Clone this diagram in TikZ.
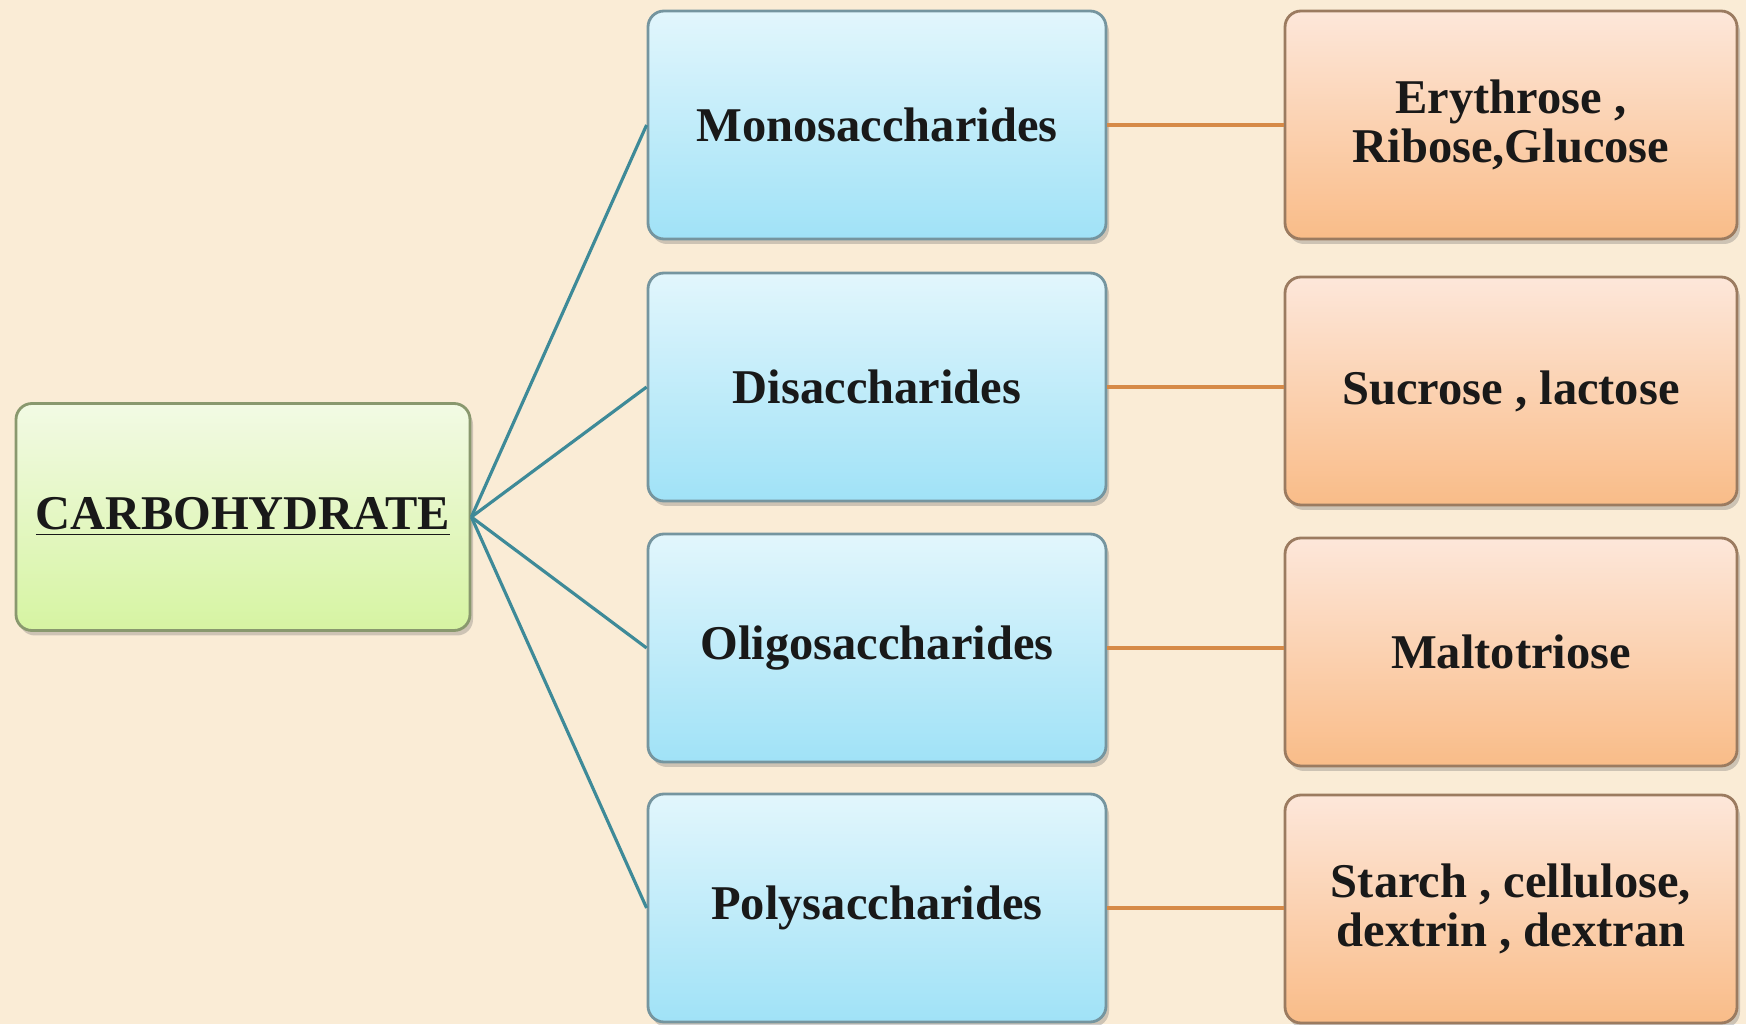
\documentclass[tikz,border=0pt]{standalone}
\usepackage{fontspec}
\setmainfont{Liberation Serif}
\usetikzlibrary{shadows}
\definecolor{paper}{RGB}{250, 236, 214}
\definecolor{greentop}{RGB}{242, 250, 228}
\definecolor{greenbot}{RGB}{214, 244, 162}
\definecolor{bluetop}{RGB}{226, 246, 252}
\definecolor{bluebot}{RGB}{160, 226, 247}
\definecolor{orangetop}{RGB}{253, 231, 218}
\definecolor{orangebot}{RGB}{249, 188, 136}
\definecolor{fanteal}{RGB}{62, 138, 152}
\definecolor{linkorange}{RGB}{214, 138, 72}

\begin{document}
\begin{tikzpicture}[
    font=\fontsize{13.8}{14}\selectfont\bfseries,
    box/.style={rounded corners=0.16cm, align=center, line width=0.8pt,
        text=black!90, inner sep=0pt,
        drop shadow={shadow xshift=0.03cm, shadow yshift=-0.05cm, opacity=0.3, fill=black!60}},
    rootbox/.style={box, draw=black!35!greenbot!80!gray, top color=greentop, bottom color=greenbot,
        minimum width=4.54cm, minimum height=2.27cm},
    typebox/.style={box, draw=black!30!bluebot!70!gray, top color=bluetop, bottom color=bluebot,
        minimum width=4.58cm, minimum height=2.28cm},
    examplebox/.style={box, draw=black!35!orangebot!80!gray, top color=orangetop, bottom color=orangebot,
        minimum width=4.52cm, minimum height=2.28cm},
    fan/.style={fanteal, line width=0.9pt},
    link/.style={linkorange, line width=1.2pt}
  ]
    % Dimensions
    \def\xb{8.77}   % centre of the type boxes
    \def\xe{15.11}  % centre of the example boxes

    % 1. Paper background (also fixes the size)
    \fill[paper] (0,0) rectangle (17.46,-10.24);

    % 2. Root
    \node[rootbox] (carb) at (2.43,-5.17) {\underline{CARBOHYDRATE}};

    % 3. Kinds of carbohydrate
    \node[typebox] (mono)  at (\xb,-1.25) {Monosaccharides};
    \node[typebox] (di)    at (\xb,-3.87) {Disaccharides};
    \node[typebox] (oligo) at (\xb,-6.48) {Oligosaccharides};
    \node[typebox] (poly)  at (\xb,-9.08) {Polysaccharides};

    % 4. Examples
    \node[examplebox] (ex-mono)  at (\xe,-1.25) {Erythrose ,\\Ribose,Glucose};
    \node[examplebox] (ex-di)    at (\xe,-3.91) {Sucrose , lactose};
    \node[examplebox] (ex-oligo) at (\xe,-6.52) {Maltotriose};
    \node[examplebox] (ex-poly)  at (\xe,-9.09) {Starch , cellulose,\\dextrin , dextran};

    % 5. Fan from the root
    \foreach \t in {mono, di, oligo, poly}
        \draw[fan] (carb.east) -- (\t.west);

    % 6. Links to the examples
    \foreach \t in {mono, di, oligo, poly}
        \draw[link] (\t.east) -- (\t.east -| ex-\t.west);

\end{tikzpicture}
\end{document}
